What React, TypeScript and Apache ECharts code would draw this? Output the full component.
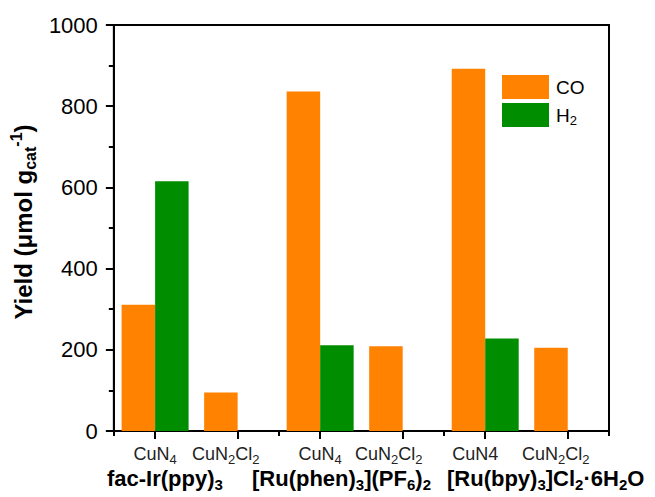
import React, { useEffect, useRef } from "react";
import * as echarts from "echarts";

// ---------- data ----------
const categories = [
  "Ir-CuN4",
  "Ir-CuN2Cl2",
  "Phen-CuN4",
  "Phen-CuN2Cl2",
  "Bpy-CuN4",
  "Bpy-CuN2Cl2",
];
const tickLabels = [
  "CuN_{4}",
  "CuN_{2}Cl_{2}",
  "CuN_{4}",
  "CuN_{2}Cl_{2}",
  "CuN4",
  "CuN_{2}Cl_{2}",
];
const coValues = [311, 95, 836, 209, 892, 205];
const h2Values = [615, 0, 211, 0, 228, 0];
const groupLabels = [
  "fac-Ir(ppy)_{3}",
  "[Ru(phen)_{3}](PF_{6})_{2}",
  "[Ru(bpy)_{3}]Cl_{2}·6H_{2}O",
];
const seriesNames = ["CO", "H_{2}"];
const yMin = 0;
const yMax = 1000;
const yInterval = 200;

// ---------- layout / style ----------
const FONT = "'Liberation Sans', Arial, Helvetica, sans-serif";
const ORANGE = "#FF8200";
const GREEN = "#008E00";
const labelShiftLeft = [0, 12, 0, 14, 10, 12];
const groupLabelLeft = [107, 252, 447];

function toRich(s: string, base: string, sub: string, sup: string) {
  const out: string[] = [];
  const re = /([_^])\{([^}]*)\}/g;
  let last = 0;
  let m: RegExpExecArray | null;
  while ((m = re.exec(s))) {
    if (m.index > last) out.push(`{${base}|${s.slice(last, m.index)}}`);
    out.push(`{${m[1] === "_" ? sub : sup}|${m[2]}}`);
    last = re.lastIndex;
  }
  if (last < s.length) out.push(`{${base}|${s.slice(last)}}`);
  return out.join("");
}

export default function App() {
  const ref = useRef<HTMLDivElement>(null);

  useEffect(() => {
    document.body.style.margin = "0";
    if (!ref.current) return;
    const chart = echarts.init(ref.current, null, { renderer: "svg" });

    const tickRich: Record<string, any> = {
      n: { fontSize: 18, lineHeight: 24, verticalAlign: "middle", color: "#222", fontFamily: FONT },
      s: { fontSize: 13, lineHeight: 13, verticalAlign: "bottom", color: "#222", fontFamily: FONT },
    };
    labelShiftLeft.forEach((v, i) => {
      tickRich["p" + i] = { width: v * 2, fontSize: 18, lineHeight: 24 };
    });

    const groupRich = {
      b: { fontSize: 22, fontWeight: "bold", lineHeight: 28, verticalAlign: "middle", color: "#000", fontFamily: FONT },
      s: { fontSize: 15, fontWeight: "bold", lineHeight: 15, verticalAlign: "bottom", color: "#000", fontFamily: FONT },
    };

    const option: any = {
      animation: false,
      backgroundColor: "#fff",
      grid: {
        left: 107,
        right: 46,
        top: 25,
        bottom: 66,
        show: true,
        borderColor: "#000",
        borderWidth: 2,
        backgroundColor: "transparent",
      },
      legend: {
        orient: "vertical",
        left: 502,
        top: 75,
        padding: 0,
        itemWidth: 47,
        itemHeight: 24,
        itemGap: 4,
        icon: "rect",
        data: ["CO", "H2"],
        formatter: (name: string) =>
          toRich(name === "H2" ? seriesNames[1] : seriesNames[0], "n", "s", "u"),
        textStyle: {
          rich: {
            n: { fontSize: 19, lineHeight: 24, verticalAlign: "middle", color: "#000", fontFamily: FONT, padding: [0, 0, 0, 2] },
            s: { fontSize: 13, lineHeight: 13, verticalAlign: "bottom", color: "#000", fontFamily: FONT },
          },
        },
      },
      xAxis: [
        {
          type: "category",
          data: categories,
          position: "bottom",
          axisLine: { show: true, lineStyle: { color: "#000", width: 2 } },
          axisTick: { show: true, alignWithLabel: true, length: 8, lineStyle: { color: "#000", width: 2 } },
          axisLabel: {
            margin: 11,
            interval: 0,
            formatter: (_v: string, i: number) =>
              toRich(tickLabels[i], "n", "s", "u") + (labelShiftLeft[i] ? `{p${i}|}` : ""),
            rich: tickRich,
          },
          splitLine: { show: false },
        },
        {
          type: "category",
          data: categories,
          position: "bottom",
          axisLine: { show: false },
          axisTick: { show: true, length: 5, lineStyle: { color: "#000", width: 2 } },
          axisLabel: { show: false },
          splitLine: { show: false },
        },
      ],
      yAxis: {
        type: "value",
        min: yMin,
        max: yMax,
        interval: yInterval,
        name: "{b|Yield (μmol g}{sub|cat}{sup|-1}{b|)}",
        nameLocation: "middle",
        nameRotate: 90,
        nameGap: 65,
        nameTextStyle: {
          padding: [0, 0, 0, 12],
          rich: {
            b: { fontSize: 24, fontWeight: "bold", lineHeight: 30, verticalAlign: "middle", color: "#000", fontFamily: FONT },
            sub: { fontSize: 16, fontWeight: "bold", lineHeight: 16, verticalAlign: "bottom", color: "#000", fontFamily: FONT },
            sup: { fontSize: 16, fontWeight: "bold", lineHeight: 16, verticalAlign: "top", color: "#000", fontFamily: FONT },
          },
        },
        axisLine: { show: true, lineStyle: { color: "#000", width: 2 } },
        axisTick: { show: true, length: 8, lineStyle: { color: "#000", width: 2 } },
        minorTick: { show: true, splitNumber: 2, length: 5, lineStyle: { color: "#000", width: 2 } },
        axisLabel: {
          margin: 16,
          fontSize: 22,
          color: "#000",
          fontFamily: FONT,
          formatter: (v: number) => String(v),
        },
        splitLine: { show: false },
      },
      series: [
        {
          name: "CO",
          type: "bar",
          data: coValues,
          barWidth: 33.5,
          barGap: "0%",
          itemStyle: { color: ORANGE },
        },
        {
          name: "H2",
          type: "bar",
          data: h2Values,
          barWidth: 33.5,
          barGap: "0%",
          itemStyle: { color: GREEN },
        },
      ],
      graphic: groupLabels.map((g, i) => ({
        type: "text",
        left: groupLabelLeft[i],
        top: 467,
        style: {
          text: toRich(g, "b", "s", "u"),
          rich: groupRich,
        },
      })),
    };

    chart.setOption(option);
    return () => chart.dispose();
  }, []);

  return <div ref={ref} style={{ width: 655, height: 497 }} />;
}
